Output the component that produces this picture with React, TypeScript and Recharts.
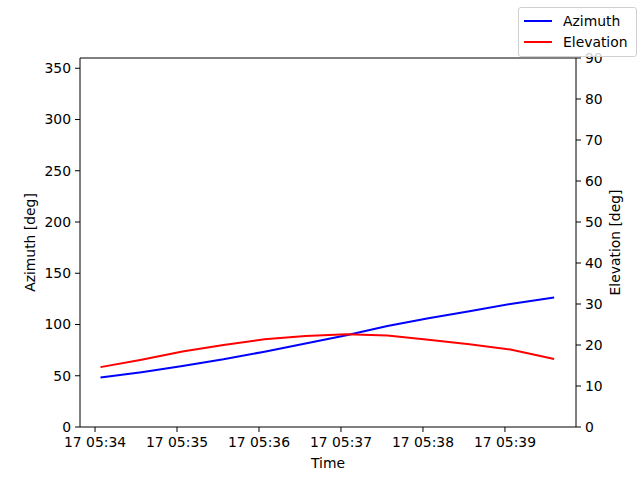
import React from "react";
import { LineChart, Line, XAxis, YAxis, ReferenceLine, Legend } from "recharts";

// seconds after 17 05:34:00
const seconds = [4, 34, 64, 94, 124, 154, 184, 214, 244, 274, 304, 336];
const azimuth = [48.3, 53.5, 59.5, 66, 73.5, 81.5, 89.5, 98.5, 106, 113, 120, 126.3];
const elevation = [14.6, 16.4, 18.4, 20.0, 21.4, 22.2, 22.6, 22.3, 21.3, 20.2, 18.9, 16.6];

const timeTicks = [0, 60, 120, 180, 240, 300];
const azTicks = [0, 50, 100, 150, 200, 250, 300, 350];
const elTicks = [0, 10, 20, 30, 40, 50, 60, 70, 80, 90];

const data = seconds.map((t, i) => ({ t, az: azimuth[i], el: elevation[i] }));

const FONT = "DejaVu Sans";
const tickStyle = { fill: "#000", fontSize: 13.9, fontFamily: FONT };
const labelStyle = { fill: "#000", fontSize: 13.9, fontFamily: FONT, textAnchor: "middle" as const };

const fmtTime = (v: number) => `17 05:${34 + Math.round(v / 60)}`;

function LegendBox() {
  const rows = [
    { name: "Azimuth", color: "#0000ff" },
    { name: "Elevation", color: "#ff0000" },
  ];
  return (
    <div
      style={{
        border: "1px solid #d0d0d0",
        borderRadius: 3,
        background: "rgba(255,255,255,0.8)",
        padding: "2px 8px 4px 5px",
        fontFamily: FONT,
        fontSize: 13.9,
        color: "#000",
      }}
    >
      {rows.map((r) => (
        <div key={r.name} style={{ display: "flex", alignItems: "center", height: 21 }}>
          <div style={{ width: 28, height: 2, background: r.color, marginRight: 11 }} />
          <span>{r.name}</span>
        </div>
      ))}
    </div>
  );
}

export default function App() {
  return (
    <div style={{ position: "absolute", left: 0, top: 0, width: 640, height: 480, background: "#fff" }}>
      <LineChart width={640} height={480} data={data} margin={{ top: 58, right: 0, bottom: 0, left: 0 }}>
        <XAxis
          dataKey="t"
          type="number"
          domain={[-11, 352]}
          ticks={timeTicks}
          tickFormatter={fmtTime}
          allowDataOverflow
          height={53}
          stroke="#000"
          tickSize={5}
          tickMargin={5}
          tick={tickStyle}
          label={{ value: "Time", position: "insideBottom", offset: 12, style: labelStyle }}
        />
        <YAxis
          yAxisId="left"
          domain={[0, 360]}
          ticks={azTicks}
          width={80}
          stroke="#000"
          tickSize={5}
          tickMargin={4}
          tick={tickStyle}
          label={{ value: "Azimuth [deg]", angle: -90, position: "insideLeft", offset: 30, style: labelStyle }}
        />
        <YAxis
          yAxisId="right"
          orientation="right"
          domain={[0, 90]}
          ticks={elTicks}
          width={64}
          stroke="#000"
          tickSize={5}
          tickMargin={4}
          tick={tickStyle}
          label={{ value: "Elevation [deg]", angle: -90, position: "insideRight", offset: 25, style: labelStyle }}
        />
        <ReferenceLine yAxisId="left" y={360} stroke="#000" strokeWidth={1} />
        <Line
          yAxisId="left"
          dataKey="az"
          name="Azimuth"
          type="linear"
          stroke="#0000ff"
          strokeWidth={2}
          dot={false}
          isAnimationActive={false}
        />
        <Line
          yAxisId="right"
          dataKey="el"
          name="Elevation"
          type="linear"
          stroke="#ff0000"
          strokeWidth={2}
          dot={false}
          isAnimationActive={false}
        />
        <Legend
          layout="vertical"
          align="center"
          verticalAlign="middle"
          content={() => <LegendBox />}
          wrapperStyle={{ top: 7, left: 518, width: "auto", height: "auto" }}
        />
      </LineChart>
    </div>
  );
}
